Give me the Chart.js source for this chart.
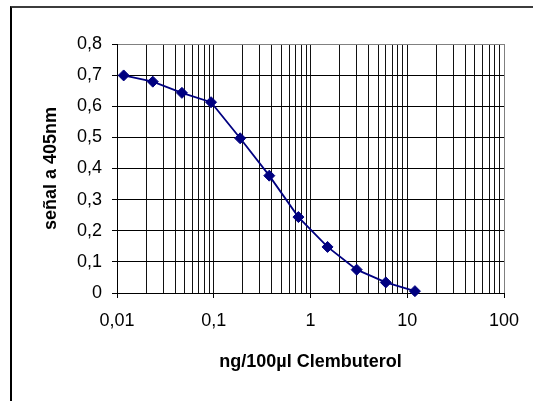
<!DOCTYPE html>
<html><head><meta charset="utf-8">
<script src="https://cdn.jsdelivr.net/npm/chart.js@4/dist/chart.umd.min.js"></script>
<style>
html,body{margin:0;padding:0;background:#fff;overflow:hidden;width:533px;height:401px}
#frame{position:absolute;left:10px;top:6px;width:600px;height:500px;border-top:2px solid #3c3c3c;border-left:2px solid #000;box-sizing:border-box}
#wrap{position:absolute;left:0;top:0;width:533px;height:401px}
</style></head><body>
<div id="frame"></div>
<div id="wrap"><canvas id="c" width="533" height="401"></canvas></div>
<script>
// ---- data ----
const concentrations = [0.01172, 0.02344, 0.04688, 0.09375, 0.1875, 0.375, 0.75, 1.5, 3, 6, 12];
const signal = [0.699, 0.679, 0.643, 0.613, 0.497, 0.377, 0.244, 0.148, 0.075, 0.034, 0.006];
const xDecades = [0.01, 0.1, 1, 10, 100];
const xDecadeLabels = ['0,01', '0,1', '1', '10', '100'];
const xMinorMultipliers = [2, 3, 4, 5, 6, 7, 8, 9];
const yTicks = [0, 0.1, 0.2, 0.3, 0.4, 0.5, 0.6, 0.7, 0.8];
const yTickLabels = ['0', '0,1', '0,2', '0,3', '0,4', '0,5', '0,6', '0,7', '0,8'];
const xTitle = 'ng/100µl Clembuterol';
const yTitle = 'señal a 405nm';

// ---- helpers ----
const near = (a, b) => Math.abs(a / b - 1) < 1e-6 || Math.abs(a - b) < 1e-9;
const decadeIndex = v => xDecades.findIndex(d => near(v, d));
const xTickValues = [];
xDecades.forEach((d, i) => {
  xTickValues.push(d);
  if (i < xDecades.length - 1) xMinorMultipliers.forEach(m => xTickValues.push(d * m));
});
xTickValues.sort((a, b) => a - b);

const FONT = "'Liberation Sans', Arial, sans-serif";

new Chart(document.getElementById('c'), {
  type: 'line',
  data: {
    datasets: [{
      data: concentrations.map((x, i) => ({x: x, y: signal[i]})),
      borderColor: '#000080',
      backgroundColor: '#000080',
      borderWidth: 1.8,
      pointStyle: 'rectRot',
      pointRadius: 5.5,
      pointBorderWidth: 1,
      pointBorderColor: '#000080',
      pointBackgroundColor: '#000080',
      tension: 0,
      fill: false,
      clip: false
    }]
  },
  options: {
    responsive: false,
    animation: false,
    events: [],
    layout: {padding: {left: 0, top: 44, right: 29, bottom: 0}},
    plugins: {legend: {display: false}, tooltip: {enabled: false}},
    scales: {
      x: {
        type: 'logarithmic',
        position: 'bottom',
        min: xDecades[0],
        max: xDecades[xDecades.length - 1],
        afterBuildTicks: s => { s.ticks = xTickValues.map(v => ({value: v})); },
        afterFit: s => { s.height = 108; },
        ticks: {
          autoSkip: false,
          maxRotation: 0,
          padding: 12,
          color: '#000',
          font: {family: FONT, size: 18},
          callback: v => { const i = decadeIndex(v); return i >= 0 ? xDecadeLabels[i] : ''; }
        },
        grid: {
          color: c => (c.tick && near(c.tick.value, 100)) ? '#808080' : '#111',
          tickColor: c => (c.tick && decadeIndex(c.tick.value) >= 0) ? '#000' : 'rgba(0,0,0,0)',
          tickLength: 5,
          lineWidth: 1
        },
        border: {color: '#000', width: 1},
        title: {
          display: true, text: xTitle, color: '#000',
          font: {family: FONT, size: 18, weight: 'bold'},
          padding: {top: 0, bottom: 28}
        }
      },
      y: {
        type: 'linear',
        position: 'left',
        min: 0,
        max: 0.8,
        afterBuildTicks: s => { s.ticks = yTicks.map(v => ({value: v})); },
        afterFit: s => { s.width = 117; },
        ticks: {
          padding: 10,
          color: '#000',
          font: {family: FONT, size: 18},
          callback: (v, i) => yTickLabels[yTicks.findIndex(t => Math.abs(t - v) < 1e-9)]
        },
        grid: {
          color: c => (c.tick && Math.abs(c.tick.value - 0.8) < 1e-9) ? '#808080' : '#000',
          tickColor: '#000',
          tickLength: 5,
          lineWidth: 1
        },
        border: {color: '#000', width: 1},
        title: {
          display: true, text: yTitle, color: '#000',
          font: {family: FONT, size: 18, weight: 'bold'},
          padding: {top: 40, bottom: 0}
        }
      }
    }
  }
});
</script>
</body></html>
